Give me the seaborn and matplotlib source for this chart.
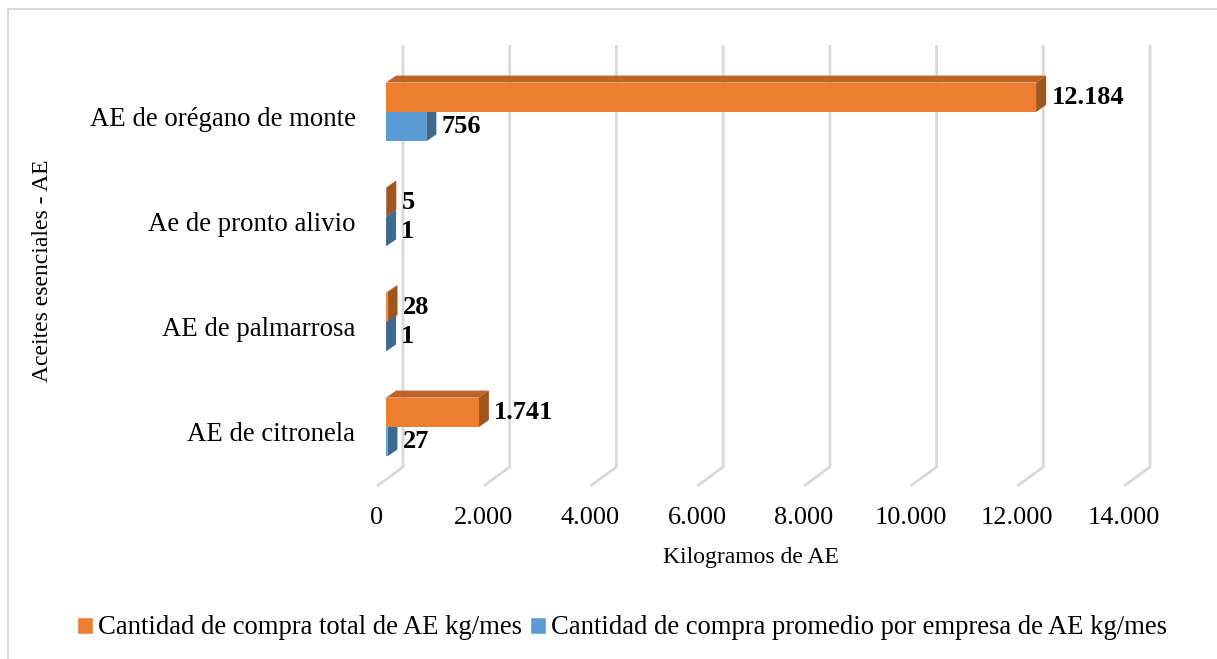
import matplotlib
matplotlib.use("Agg")
import matplotlib.pyplot as plt
import matplotlib.transforms as mtransforms
from matplotlib.patches import Polygon, Patch
from matplotlib.lines import Line2D
import seaborn as sns
import pandas as pd

# data
aceites = ["AE de orégano de monte", "Ae de pronto alivio", "AE de palmarrosa", "AE de citronela"]
total_kg_mes = [12184, 5, 28, 1741]
promedio_kg_mes = [756, 1, 1, 27]
series = ["Cantidad de compra total de AE kg/mes",
          "Cantidad de compra promedio por empresa de AE kg/mes"]
x_ticks = [0, 2000, 4000, 6000, 8000, 10000, 12000, 14000]

ORANGE = "#ED7D31"
BLUE = "#5B9BD5"


def fmt(v):
    return f"{v:,}".replace(",", ".")


def shade(hex_color, k):
    r, g, b = matplotlib.colors.to_rgb(hex_color)
    return (r * k, g * k, b * k)


sns.set_style("white")
plt.rcParams["font.family"] = ["Liberation Serif", "DejaVu Serif"]
plt.rcParams["text.color"] = "black"
plt.rcParams["xtick.color"] = "black"
plt.rcParams["ytick.color"] = "black"

W, H = 1217, 659
fig = plt.figure(figsize=(W / 100, H / 100), dpi=100)
ax_l, ax_r, ax_t, ax_b = 386, 1133, 45, 467
ax = fig.add_axes([ax_l / W, (H - ax_b) / H, (ax_r - ax_l) / W, (ax_b - ax_t) / H])

df = pd.DataFrame({
    "aceite": aceites * 2,
    "kg": total_kg_mes + promedio_kg_mes,
    "serie": [series[0]] * len(aceites) + [series[1]] * len(aceites),
})

sns.barplot(data=df, y="aceite", x="kg", hue="serie", orient="h",
            palette=[ORANGE, BLUE], saturation=1, width=0.56, errorbar=None,
            linewidth=0, zorder=3, legend=False, ax=ax)

xmax = x_ticks[-1]
ylo, yhi = 3.381, -0.638
ax.set_xlim(0, xmax)
ax.set_ylim(ylo, yhi)
for s in ax.spines.values():
    s.set_visible(False)

px_x = xmax / (ax_r - ax_l)
px_y = (ylo - yhi) / (ax_b - ax_t)

# back wall + floor gridlines (3D look)
for v in x_ticks:
    bx = v + 17 * px_x
    fx = v - 9 * px_x
    ax.plot([bx, bx, fx], [yhi, ylo, ylo + 19 * px_y], color="#D9D9D9",
            lw=2, zorder=1, clip_on=False, solid_capstyle="butt")

# extruded faces of the bars
dx, dy = 10 * px_x, 7 * px_y
for p in ax.patches:
    x0, w = p.get_x(), p.get_width()
    ya, yb = p.get_y(), p.get_y() + p.get_height()
    base = matplotlib.colors.to_hex(p.get_facecolor())
    top = [(x0, ya), (x0 + w, ya), (x0 + w + dx, ya - dy), (x0 + dx, ya - dy)]
    side = [(x0 + w, ya), (x0 + w, yb), (x0 + w + dx, yb - dy), (x0 + w + dx, ya - dy)]
    ax.add_patch(Polygon(top, closed=True, color=shade(base, 0.8), lw=0, zorder=2, clip_on=False))
    ax.add_patch(Polygon(side, closed=True, color=shade(base, 0.68), lw=0, zorder=2, clip_on=False))

# value labels
for cont, vals in zip(ax.containers, [total_kg_mes, promedio_kg_mes]):
    ax.bar_label(cont, labels=[fmt(v) for v in vals], padding=11,
                 fontsize=19, fontweight="bold", color="black")

# ticks
ax.set_xticks(x_ticks)
ax.set_xticklabels([fmt(v) for v in x_ticks], fontsize=19)
ax.tick_params(axis="x", length=0, pad=29)
ax.tick_params(axis="y", length=0, pad=22, labelsize=19.3)
shift_x = mtransforms.ScaledTranslation(-9 / 100, 0, fig.dpi_scale_trans)
for lab in ax.get_xticklabels():
    lab.set_transform(lab.get_transform() + shift_x)
shift_y = mtransforms.ScaledTranslation(0, -5 / 100, fig.dpi_scale_trans)
for lab in ax.get_yticklabels():
    lab.set_transform(lab.get_transform() + shift_y)
ax.set_xlabel("")
ax.set_ylabel("")

fig.text(751 / W, 1 - 558 / H, "Kilogramos de AE", fontsize=17, ha="center", va="center")
fig.text(43 / W, 1 - 271 / H, "Aceites esenciales - AE", fontsize=17, rotation=90,
         ha="center", va="center")

handles = [Patch(facecolor=ORANGE), Patch(facecolor=BLUE)]
fig.legend(handles, series, loc="center", bbox_to_anchor=(622 / W, 1 - 628 / H),
           ncol=2, frameon=False, fontsize=19.2, handlelength=0.6, handleheight=0.6,
           handletextpad=0.2, columnspacing=0.3, borderaxespad=0)

# chart frame
fig.add_artist(Line2D([8 / W, 8 / W], [0, 1 - 9 / H], color="#D9D9D9", lw=1.5))
fig.add_artist(Line2D([8 / W, 1], [1 - 9 / H, 1 - 9 / H], color="#D9D9D9", lw=1.5))

fig.savefig("out.png", dpi=100)
plt.close(fig)
